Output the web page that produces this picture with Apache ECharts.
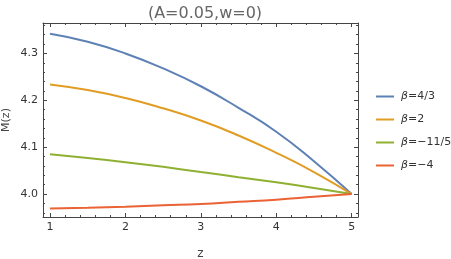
<!DOCTYPE html>
<html><head><meta charset="utf-8">
<script src="https://cdn.jsdelivr.net/npm/echarts@6/dist/echarts.min.js"></script>
<style>html,body{margin:0;padding:0;background:#fff}#c{width:451px;height:259px}</style>
</head><body><div id="c"></div>
<script>
const zValues = [1, 1.5, 2, 2.5, 3, 3.5, 4, 4.5, 5];
const seriesNames = ['β=4/3', 'β=2', 'β=−11/5', 'β=−4'];
const mBeta43 = [4.342, 4.325, 4.300, 4.268, 4.230, 4.184, 4.133, 4.070, 4.000];
const mBeta2 = [4.234, 4.222, 4.205, 4.183, 4.157, 4.125, 4.088, 4.047, 4.000];
const mBetaM115 = [4.085, 4.077, 4.068, 4.058, 4.047, 4.036, 4.025, 4.013, 4.000];
const mBetaM4 = [3.969, 3.9705, 3.973, 3.976, 3.979, 3.9835, 3.988, 3.994, 4.000];
const xMajorTicks = [1, 2, 3, 4, 5];
const xMinorTicks = [1.2, 1.4, 1.6, 1.8, 2.2, 2.4, 2.6, 2.8, 3.2, 3.4, 3.6, 3.8, 4.2, 4.4, 4.6, 4.8];
const yMajorTicks = [4.0, 4.1, 4.2, 4.3];
const yMinorTicks = [3.96, 3.98, 4.02, 4.04, 4.06, 4.08, 4.12, 4.14, 4.16, 4.18, 4.22, 4.24, 4.26, 4.28, 4.32, 4.34, 4.36];

const colors = ['#5E81B5', '#E19C24', '#8FB032', '#EB6235'];
const allData = [mBeta43, mBeta2, mBetaM115, mBetaM4];
const X_MIN = 0.907, X_MAX = 5.084, Y_MIN = 3.951, Y_MAX = 4.365;
const frame = '#444';
const font = 'DejaVu Sans';

function xAx(pos, ticks, len, labels, line) {
  return {
    type: 'value', position: pos, min: X_MIN, max: X_MAX,
    axisLine: { show: line, onZero: false, lineStyle: { color: frame, width: 1 } },
    axisTick: { show: true, inside: true, length: len, customValues: ticks, lineStyle: { color: frame } },
    axisLabel: labels ? { show: true, customValues: ticks, color: '#333', fontFamily: font, fontSize: 11, margin: 5 } : { show: false },
    splitLine: { show: false },
    name: labels ? 'z' : '', nameLocation: 'middle', nameGap: 31, nameMoveOverlap: false,
    nameTextStyle: { color: '#444', fontFamily: font, fontSize: 12 }
  };
}
function yAx(pos, ticks, len, labels, line) {
  return {
    type: 'value', position: pos, min: Y_MIN, max: Y_MAX,
    axisLine: { show: line, onZero: false, lineStyle: { color: frame, width: 1 } },
    axisTick: { show: true, inside: true, length: len, customValues: ticks, lineStyle: { color: frame } },
    axisLabel: labels ? { show: true, customValues: ticks, color: '#333', fontFamily: font, fontSize: 11, margin: 5,
      formatter: v => v.toFixed(1) } : { show: false },
    splitLine: { show: false },
    name: labels ? 'M(z)' : '', nameLocation: 'middle', nameGap: 31, nameRotate: 90, nameMoveOverlap: false,
    nameTextStyle: { color: '#444', fontFamily: font, fontSize: 11 }
  };
}

const chart = echarts.init(document.getElementById('c'), null, { renderer: 'canvas' });
chart.setOption({
  animation: false,
  backgroundColor: '#fff',
  title: {
    text: '(A=0.05,w=0)', left: 200, top: 1, textAlign: 'center',
    textStyle: { color: '#666', fontFamily: font, fontSize: 16, fontWeight: 'normal' }
  },
  grid: { left: 43, right: 93, top: 23, bottom: 42, outerBoundsMode: 'none', containLabel: false },
  xAxis: [
    xAx('bottom', xMajorTicks, 4, true, true),
    xAx('bottom', xMinorTicks, 2, false, false),
    xAx('top', xMajorTicks, 4, false, true),
    xAx('top', xMinorTicks, 2, false, false)
  ],
  yAxis: [
    yAx('left', yMajorTicks, 4, true, true),
    yAx('left', yMinorTicks, 2, false, false),
    yAx('right', yMajorTicks, 4, false, true),
    yAx('right', yMinorTicks, 2, false, false)
  ],
  legend: {
    orient: 'vertical', left: 371, top: 86,
    itemWidth: 18, itemHeight: 2, itemGap: 12, icon: 'rect',
    data: seriesNames,
    formatter: n => '{i|β}{n|' + n.slice(1) + '}',
    textStyle: {
      color: '#333', fontFamily: font, fontSize: 11, padding: [0, 0, 0, 2],
      rich: { i: { fontStyle: 'italic', fontFamily: font, fontSize: 11, color: '#333' },
              n: { fontFamily: font, fontSize: 11, color: '#333' } }
    }
  },
  series: allData.map((d, i) => ({
    name: seriesNames[i], type: 'line', smooth: true, showSymbol: false,
    xAxisIndex: 0, yAxisIndex: 0,
    lineStyle: { color: colors[i], width: 2 }, itemStyle: { color: colors[i] },
    data: zValues.map((z, k) => [z, d[k]])
  }))
});
</script></body></html>
